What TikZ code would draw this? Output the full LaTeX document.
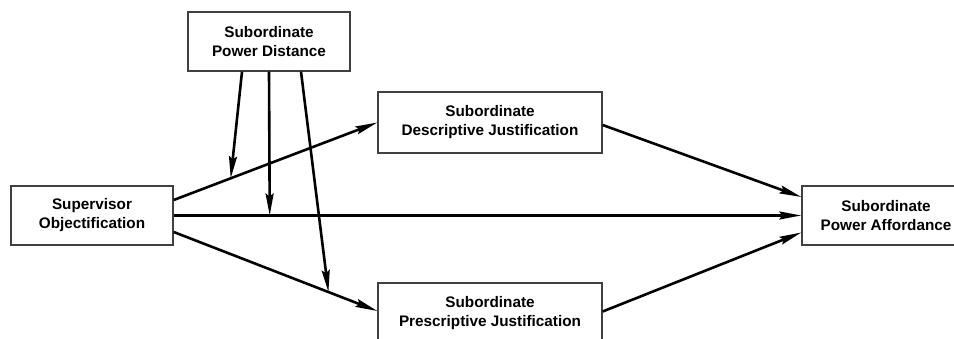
\documentclass[tikz,border=0pt]{standalone}
\usepackage{fontspec}
\setmainfont{Liberation Sans}
\usetikzlibrary{arrows.meta}

\begin{document}
\begin{tikzpicture}[x=1pt,y=-1pt,
	box/.style={draw=black!75, line width=1.4pt, align=center, inner sep=0pt,
		font=\fontsize{15.3}{19}\selectfont\bfseries},
	link/.style={line width=2.6pt, -{Stealth[length=22pt,width=8pt,inset=3pt]}}]
	
	\useasboundingbox (0,0) rectangle (954,339);
	
	% Boxes
	\node[box, minimum width=162, minimum height=59] (dist) at (269,41.5) {Subordinate\\Power Distance};
	\node[box, minimum width=224, minimum height=61] (desc) at (490,122.5) {Subordinate\\Descriptive Justification};
	\node[box, minimum width=162, minimum height=59] (obj) at (92,215.5) {Supervisor\\Objectification};
	\node[box, minimum width=168, minimum height=59] (afford) at (886,215.5) {Subordinate\\Power Affordance};
	\node[box, minimum width=224, minimum height=61] (presc) at (490,313.5) {Subordinate\\Prescriptive Justification};
	
	% Paths from the predictor
	\draw[link] ([yshift=15.5]obj.east) -- (desc.west) coordinate[pos=0.28] (m1);
	\draw[link] (obj.east) -- (afford.west) coordinate[pos=0.153] (m2);
	\draw[link] ([yshift=-16.5]obj.east) -- ([yshift=2.5]presc.west) coordinate[pos=0.76] (m3);
	
	% Paths to the outcome
	\draw[link] ([yshift=-2.5]desc.east) -- ([yshift=18.5]afford.west);
	\draw[link] ([yshift=2]presc.east) -- ([yshift=-17]afford.west);
	
	% Moderation
	\draw[link] ([xshift=-27]dist.south) -- (m1);
	\draw[link] (dist.south) -- (m2);
	\draw[link] ([xshift=32]dist.south) -- (m3);
	
\end{tikzpicture}
\end{document}
